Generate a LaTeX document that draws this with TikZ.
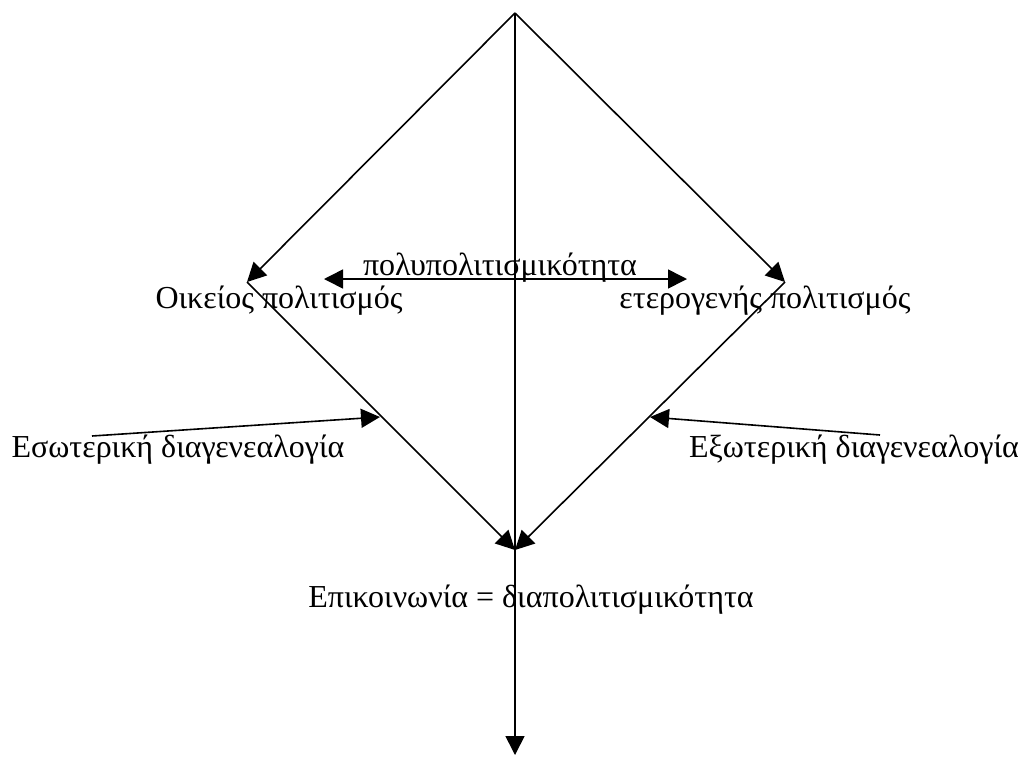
\documentclass[tikz,border=0pt]{standalone}
\usepackage{fontspec}
\setmainfont{Liberation Serif}
\usetikzlibrary{arrows.meta}
\tikzstyle{label} = [inner sep=0pt, anchor=base, font=\fontsize{32}{38}\selectfont]
\tikzstyle{arrow} = [line width=1.6pt,-{Triangle[length=19pt,width=19pt]}]
\tikzstyle{darrow} = [line width=1.6pt,{Triangle[length=19pt,width=19pt]}-{Triangle[length=19pt,width=19pt]}]

\begin{document}
\begin{tikzpicture}[x=1pt,y=-1pt]
\useasboundingbox (0,0) rectangle (1022,756);

% Corners of the diamond
\coordinate (top) at (515,13);
\coordinate (L) at (247,282);
\coordinate (R) at (785,282);
\coordinate (C) at (515,550);
\coordinate (B) at (515,755);

% Ends of the side arrows
\coordinate (hl) at (324,279);
\coordinate (hr) at (687,279);
\coordinate (el) at (92,436);
\coordinate (et) at (380,417);
\coordinate (xr) at (880,435);
\coordinate (xt) at (650,417);

% Labels
\node (polu) [label] at (500,275) {πολυπολιτισμικότητα};
\node (oik) [label] at (279,308) {Οικείος πολιτισμός};
\node (eter) [label] at (765,308) {ετερογενής πολιτισμός};
\node (esot) [label] at (178,457) {Εσωτερική διαγενεαλογία};
\node (exot) [label] at (854,457) {Εξωτερική διαγενεαλογία};
\node (epik) [label] at (531,607) {Επικοινωνία = διαπολιτισμικότητα};

% Connecting arrows
\draw [arrow] (top) -- (L);
\draw [arrow] (top) -- (R);
\draw [arrow] (top) -- (B);
\draw [arrow] (L) -- (C);
\draw [arrow] (R) -- (C);
\draw [darrow] (hl) -- (hr);
\draw [arrow] (el) -- (et);
\draw [arrow] (xr) -- (xt);

\end{tikzpicture}
\end{document}
